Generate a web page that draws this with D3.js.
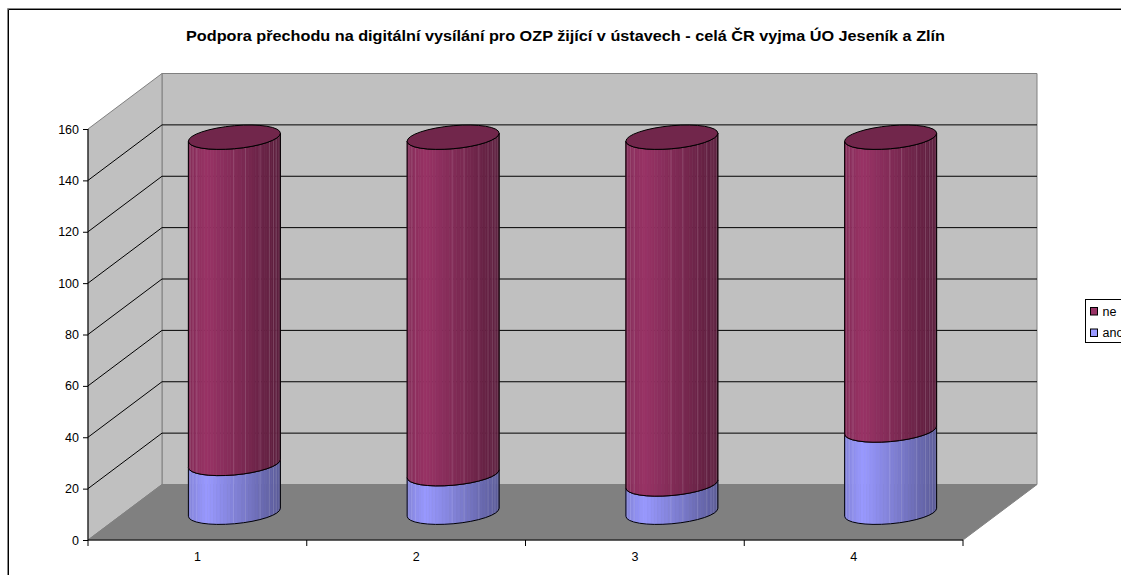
<!DOCTYPE html>
<html><head><meta charset="utf-8">
<script src="https://cdn.jsdelivr.net/npm/d3@7"></script>
<style>html,body{margin:0;padding:0;background:#fff;overflow:hidden}svg{display:block}text{font-family:"Liberation Sans",Arial,sans-serif;fill:#000}</style>
</head><body><svg id="c" width="1121" height="575"></svg>
<script>
const titleText = "Podpora přechodu na digitální vysílání pro OZP žijící v ústavech - celá ČR vyjma ÚO Jeseník a Zlín";
const categories = ["1","2","3","4"];
const ano = [19,15,11,32];
const ne = [127,131,135,114];
const yTicks = [0,20,40,60,80,100,120,140,160];
const legendNames = ["ne","ano"];
const neColor = "#993366", anoColor = "#9999ff";

const svg = d3.select("#c");
const x = d3.scaleBand().domain(categories).range([88,963]);
const y = d3.scaleLinear().domain([0,160]).range([540,129]);
const dx = 74, dy = -55.5;
const L = x.range()[0], R = x.range()[1], B = y(0), T = y(160);

// chart frame
svg.append("path").attr("d",`M7.5,575V8.5H1121`).attr("fill","none").attr("stroke","#888");
svg.append("path").attr("d",`M8.5,575V9.5H1121`).attr("fill","none").attr("stroke","#000");

svg.append("text").attr("x",186).attr("y",41)
  .attr("font-size",15).attr("font-weight","bold")
  .attr("textLength",759).attr("lengthAdjust","spacingAndGlyphs").text(titleText);

const poly = p => "M"+p.map(d=>d.join(",")).join("L")+"Z";
const wall="#c0c0c0", edge="#808080";
svg.append("path").attr("d",poly([[L+dx,T+dy],[R+dx,T+dy],[R+dx,B+dy],[L+dx,B+dy]])).attr("fill",wall).attr("stroke",edge);
svg.append("path").attr("d",poly([[L,T],[L+dx,T+dy],[L+dx,B+dy],[L,B]])).attr("fill",wall).attr("stroke",edge);
svg.append("path").attr("d",poly([[L,B],[L+dx,B+dy],[R+dx,B+dy],[R,B]])).attr("fill","#808080").attr("stroke",edge);

// gridlines below the top edge
yTicks.filter(v=>v>0&&v<160).forEach(v=>{
  svg.append("path").attr("d",`M${L},${y(v)}L${L+dx},${y(v)+dy}L${R+dx},${y(v)+dy}`)
    .attr("fill","none").attr("stroke","#000");
});

// axes
const axisY = d3.axisLeft(y).tickValues(yTicks).tickSize(5).tickPadding(4);
const gy = svg.append("g").attr("transform",`translate(${L},0)`).call(axisY);
gy.select(".domain").attr("d",`M0,${T}V${B}`).attr("stroke","#000");
gy.selectAll("text").attr("font-size",12.5).attr("font-family",null);
const axisX = d3.axisBottom(x).tickSize(0).tickPadding(12);
const gx = svg.append("g").attr("transform",`translate(0,${B})`).call(axisX);
gx.select(".domain").attr("d",`M${L},0H${R}`).attr("stroke","#000");
gx.selectAll("text").attr("font-size",12.5).attr("font-family",null);
const edges = categories.map(c=>x(c)).concat([R]);
gx.selectAll("line.sep").data(edges).enter().append("line").attr("class","sep")
  .attr("x1",d=>d).attr("x2",d=>d).attr("y1",0).attr("y2",6).attr("stroke","#000");

// cylinders
const rx = 46, ry = 11.5, tilt = 4, N = 16;
const seams = [0.02,0.05,0.09,0.49,0.62,0.78,0.88,0.925,0.955,0.985];
const shade = f => f<0.2 ? 0.86+0.14*(f/0.2) : 1-0.4*((f-0.2)/0.8);
const tint = (c,k)=>{const r=d3.rgb(c);return d3.rgb(r.r*k,r.g*k,r.b*k).formatHex();};
const pt = (cx,cy,t)=>[cx+rx*Math.cos(t), cy+ry*Math.sin(t)-tilt*Math.cos(t)];
const ang = d3.range(N+1).map(i=>Math.PI*(1-i/N));

function segment(cx,v0,v1,color){
  const y0=y(v0)+dy/2, y1=y(v1)+dy/2;
  const g=svg.append("g");
  const M=40, fine=d3.range(M+1).map(i=>Math.PI*(1-i/M));
  const arc=(cy,t)=>{ // point on the faceted arc at angle t
    const k=Math.min(N-1,Math.floor((Math.PI-t)/Math.PI*N));
    const a=ang[k], b=ang[k+1], u=(a-t)/(a-b);
    const p=pt(cx,cy,a), q=pt(cx,cy,b);
    return [p[0]+(q[0]-p[0])*u,p[1]+(q[1]-p[1])*u];
  };
  for(let i=0;i<M;i++){
    const pa=arc(y0,fine[i]), pb=arc(y0,fine[i+1]), qa=arc(y1,fine[i]), qb=arc(y1,fine[i+1]);
    const f=((pa[0]+pb[0])/2-(cx-rx))/(2*rx);
    const col=tint(color,shade(f));
    g.append("path").attr("d",poly([pa,pb,qb,qa])).attr("fill",col).attr("stroke",col).attr("stroke-width",0.6);
  }
  seams.forEach(s=>{
    const sx=cx-rx+2*rx*s, t=Math.acos((sx-cx)/rx);
    g.append("line").attr("x1",sx).attr("x2",sx).attr("y1",arc(y0,t)[1]).attr("y2",arc(y1,t)[1])
      .attr("stroke","#fff").attr("stroke-opacity",0.14);
  });
  const front=ang.map(t=>pt(cx,y0,t)), back=ang.slice().reverse().map(t=>pt(cx,y1,t));
  g.append("path").attr("d",poly(front.concat(back))).attr("fill","none").attr("stroke","#000");
  return y1;
}
categories.forEach((c,i)=>{
  const cx=x(c)+x.bandwidth()/2+dx/2;
  segment(cx,0,ano[i],anoColor);
  const yTop=segment(cx,ano[i],ano[i]+ne[i],neColor);
  const ring=d3.range(N*2).map(k=>pt(cx,yTop,Math.PI*k/N));
  svg.append("path").attr("d",poly(ring)).attr("fill",tint(neColor,0.74)).attr("stroke","#000");
});

// legend
const lg=svg.append("g");
lg.append("rect").attr("x",1085.5).attr("y",299.5).attr("width",60).attr("height",43).attr("fill","#fff").attr("stroke","#000");
legendNames.forEach((n,i)=>{
  const yy=311.5+i*21.5;
  lg.append("rect").attr("x",1090.5).attr("y",yy-4).attr("width",7).attr("height",7.5)
    .attr("fill",i===0?neColor:anoColor).attr("stroke","#000");
  lg.append("text").attr("x",1102.5).attr("y",yy+4).attr("font-size",12.5).text(n);
});
</script></body></html>
